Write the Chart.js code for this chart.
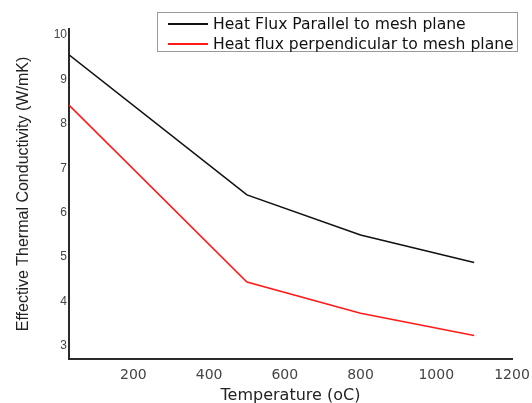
<!DOCTYPE html>
<html>
<head>
<meta charset="utf-8">
<script src="https://cdn.jsdelivr.net/npm/chart.js@4"></script>
<style>
  html, body { margin: 0; padding: 0; background: #fff; }
  #wrap { position: relative; width: 532px; height: 403px; }
  #legend {
    position: absolute; left: 157px; top: 12px; width: 359px; height: 38px;
    border: 1px solid #9a9a9a; background: #fff;
    font-family: "DejaVu Sans", sans-serif; font-size: 15.6px; color: #111;
  }
  .row { position: absolute; left: 10px; height: 20px; display: flex; align-items: center; white-space: nowrap; }
  .swatch { width: 40px; height: 2px; margin-right: 5px; }
</style>
</head>
<body>
<div id="wrap">
  <canvas id="c" width="532" height="403"></canvas>
  <div id="legend"></div>
</div>
<script>
const temperatures = [30, 500, 800, 1100];
const parallelValues = [9.55, 6.4, 5.5, 4.88];
const perpendicularValues = [8.42, 4.44, 3.74, 3.24];
const xTickValues = [200, 400, 600, 800, 1000, 1200];
const yTickValues = [3, 4, 5, 6, 7, 8, 9, 10];
const seriesLabels = ["Heat Flux Parallel to mesh plane", "Heat flux perpendicular to mesh plane"];
const seriesColors = ["#111111", "#ff1a1a"];

const toPoints = (xs, ys) => xs.map((x, i) => ({ x: x, y: ys[i] }));

const chart = new Chart(document.getElementById('c'), {
  type: 'line',
  data: {
    datasets: [
      { label: seriesLabels[0], data: toPoints(temperatures, parallelValues), borderColor: seriesColors[0], borderWidth: 1.6, pointRadius: 0, tension: 0 },
      { label: seriesLabels[1], data: toPoints(temperatures, perpendicularValues), borderColor: seriesColors[1], borderWidth: 1.6, pointRadius: 0, tension: 0 }
    ]
  },
  options: {
    responsive: false,
    animation: false,
    events: [],
    layout: { padding: { left: 14, right: 20, top: 29, bottom: 0 } },
    plugins: { legend: { display: false }, tooltip: { enabled: false } },
    scales: {
      x: {
        type: 'linear', min: 30, max: 1200,
        grid: { display: false, drawTicks: false },
        border: { display: true, color: '#2a2a2a', width: 2 },
        afterBuildTicks: a => { a.ticks = xTickValues.map(v => ({ value: v })); },
        afterFit: a => { a.height = 44; a.paddingRight = 0; a.paddingLeft = 0; },
        ticks: { color: '#444', padding: 8, maxRotation: 0, font: { family: 'DejaVu Sans', size: 14 }, callback: v => String(v) },
        title: { display: true, text: 'Temperature (oC)', color: '#222', padding: { top: 0, bottom: -2 }, font: { family: 'DejaVu Sans', size: 16 } }
      },
      y: {
        type: 'linear', min: 2.71, max: 10.13,
        grid: { display: false, drawTicks: false },
        border: { display: true, color: '#2a2a2a', width: 2 },
        afterBuildTicks: a => { a.ticks = yTickValues.map(v => ({ value: v })); },
        afterFit: a => { a.width = 55; },
        ticks: { color: '#444', padding: 2, font: { family: 'Liberation Sans', size: 12 } },
        title: { display: true, text: 'Effective Thermal Conductivity (W/mK)', color: '#222', padding: 0, font: { family: 'Liberation Sans', size: 16 } }
      }
    }
  }
});

const legend = document.getElementById('legend');
chart.data.datasets.forEach((ds, i) => {
  const row = document.createElement('div');
  row.className = 'row';
  row.style.top = (1 + i * 20) + 'px';
  const sw = document.createElement('span');
  sw.className = 'swatch';
  sw.style.background = ds.borderColor;
  const tx = document.createElement('span');
  tx.textContent = ds.label;
  row.appendChild(sw); row.appendChild(tx);
  legend.appendChild(row);
});
</script>
</body>
</html>
